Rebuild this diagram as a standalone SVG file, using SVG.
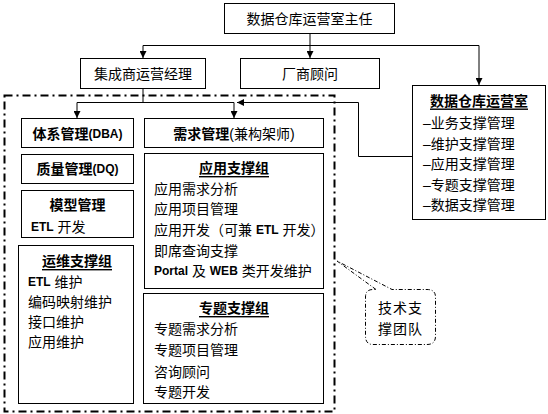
<svg xmlns="http://www.w3.org/2000/svg" width="548" height="414" viewBox="0 0 548 414">
<style>
text{font-family:"Liberation Sans","Noto Sans CJK SC",sans-serif;font-size:14px;fill:#000;dominant-baseline:central}
.box{fill:#fff;stroke:#000;stroke-width:1}
.b{font-weight:bold}
.u{font-weight:bold;text-decoration:underline}
.c{text-anchor:middle}
.lat{font-size:12px;font-weight:bold}
.ln{fill:none;stroke:#000;stroke-width:1}
.ar{marker-end:url(#arr)}
.dd{fill:none;stroke:#000;stroke-width:2;stroke-dasharray:8 4 2 4}
.co{fill:#fff;stroke:#000;stroke-width:1;stroke-dasharray:4 2 1 2}
</style>
<defs>
<marker id="arr" viewBox="0 0 8 8" refX="8" refY="4" markerWidth="7" markerHeight="7" markerUnits="userSpaceOnUse" orient="auto">
<path d="M0,0 L8,4 L0,8 z" fill="#000"/>
</marker>
</defs>
<rect width="548" height="414" fill="#fff"/>
<g id="team-frame"><rect class="dd" x="4.5" y="95.5" width="330" height="316"/></g>
<g id="connectors">
<path class="ln ar" d="M310,33.5 V58"/>
<path class="ln" d="M143,45.5 H479"/>
<path class="ln ar" d="M143,45.5 V58"/>
<path class="ln ar" d="M479,45.5 V85"/>
<path class="ln" d="M143,88.5 V102.5"/>
<path class="ln" d="M77,102.5 H234"/>
<path class="ln ar" d="M77,102.5 V118"/>
<path class="ln ar" d="M234,102.5 V118"/>
<path class="ln ar" d="M412,156.5 H358.5 V102.5 H237"/>
</g>
<g id="director"><rect class="box" x="224.5" y="3.5" width="170" height="30"/><text class="c" x="309.5" y="18.5">数据仓库运营室主任</text></g>
<g id="integrator"><rect class="box" x="80.5" y="58.5" width="125" height="30"/><text class="c" x="143" y="73.5">集成商运营经理</text></g>
<g id="vendor"><rect class="box" x="240.5" y="58.5" width="139" height="30"/><text class="c" x="310" y="74">厂商顾问</text></g>
<g id="dw-office"><rect class="box" x="412.5" y="85.5" width="133" height="134"/>
<text class="u c" x="479" y="100.5">数据仓库运营室</text>
<text x="423" y="123">–业务支撑管理</text>
<text x="423" y="143.5">–维护支撑管理</text>
<text x="423" y="164">–应用支撑管理</text>
<text x="423" y="184.5">–专题支撑管理</text>
<text x="423" y="205">–数据支撑管理</text>
</g>
<g id="arch"><rect class="box" x="21.5" y="118.5" width="112" height="29"/><text class="b c" x="77.5" y="133.5">体系管理<tspan class="lat">(DBA)</tspan></text></g>
<g id="req"><rect class="box" x="144.5" y="118.5" width="179" height="29"/><text class="c" x="234" y="133.5"><tspan class="b">需求管理</tspan>(兼构架师)</text></g>
<g id="quality"><rect class="box" x="21.5" y="154.5" width="112" height="29"/><text class="b c" x="77.5" y="169">质量管理<tspan class="lat">(DQ)</tspan></text></g>
<g id="model"><rect class="box" x="21.5" y="190.5" width="112" height="47"/>
<text class="b c" x="77.5" y="205">模型管理</text>
<text x="31" y="227"><tspan class="lat">ETL</tspan> 开发</text>
</g>
<g id="ops"><rect class="box" x="18.5" y="245.5" width="115" height="158"/>
<text class="u c" x="77" y="261">运维支撑组</text>
<text x="28" y="282"><tspan class="lat">ETL</tspan> 维护</text>
<text x="28" y="302">编码映射维护</text>
<text x="28" y="322">接口维护</text>
<text x="28" y="342">应用维护</text>
</g>
<g id="app"><rect class="box" x="144.5" y="153.5" width="179" height="135"/>
<text class="u c" x="234" y="168">应用支撑组</text>
<text x="154" y="189">应用需求分析</text>
<text x="154" y="209">应用项目管理</text>
<text x="154" y="229.5">应用开发（可兼 <tspan class="lat">ETL</tspan> 开发）</text>
<text x="154" y="250.5">即席查询支撑</text>
<text x="154" y="271"><tspan class="lat">Portal</tspan> 及 <tspan class="lat">WEB</tspan> 类开发维护</text>
</g>
<g id="topic"><rect class="box" x="143.5" y="293.5" width="180" height="110"/>
<text class="u c" x="234" y="308">专题支撑组</text>
<text x="154" y="329">专题需求分析</text>
<text x="154" y="350">专题项目管理</text>
<text x="154" y="371.5">咨询顾问</text>
<text x="154" y="392">专题开发</text>
</g>
<g id="callout">
<path class="co" d="M376,289.5 L337,261 L392,289.5 H427 Q435.5,289.5 435.5,297 V336 Q435.5,344.5 427,344.5 H373 Q365.5,344.5 365.5,336 V297 Q365.5,289.5 373,289.5 Z"/>
<text x="378" y="308" letter-spacing="1">技术支</text>
<text x="378" y="329" letter-spacing="1">撑团队</text>
</g>
</svg>
